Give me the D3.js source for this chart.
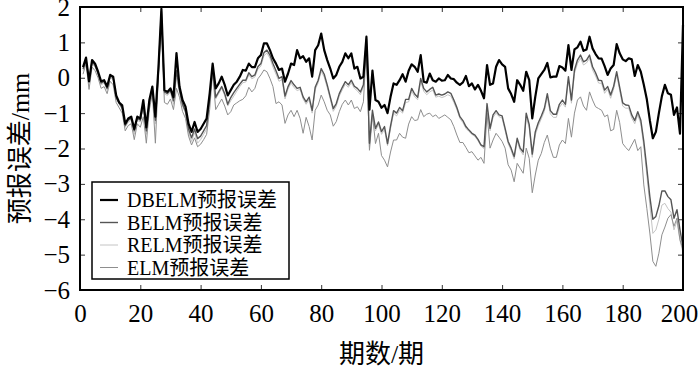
<!DOCTYPE html>
<html>
<head>
<meta charset="utf-8">
<script src="https://cdn.jsdelivr.net/npm/d3@7"></script>
<style>
  body { margin: 0; background: #fff; }
  text { font-family: "Liberation Serif", "Times New Roman", "Noto Sans CJK SC", serif; fill: #000; }
</style>
</head>
<body>
<div id="chart"></div>
<script>
//! ===== 0. Data =====
const periods = d3.range(1, 201);
const xTicks = [0, 20, 40, 60, 80, 100, 120, 140, 160, 180, 200];
const yTicks = [-6, -5, -4, -3, -2, -1, 0, 1, 2];
const seriesNames = ["DBELM预报误差", "BELM预报误差", "RELM预报误差", "ELM预报误差"];

const dbelm = [
  0.3, 0.57, -0.1, 0.5, 0.4, 0.17, -0.1, -0.07, -0.25, 0.08,
  0.03, -0.5, -0.7, -0.78, -1.3, -1.15, -1.1, -1.45, -1.1, -1.15,
  -0.63, -1.4, -0.63, -0.25, -1.1, 0.26, 1.95, -0.35, -0.4, -0.3,
  -0.55, 0.7, -0.25, -0.63, -0.82, -1.3, -1.53, -1.25, -1.53, -1.45,
  -1.3, -1.15, -0.45, 0.4, -0.3, -0.16, 0.03, -0.2, -0.5, -0.35,
  -0.2, -0.11, 0.03, 0.22, 0.2, 0.4, 0.3, 0.3, 0.55, 0.64,
  0.97, 0.97, 0.78, 0.55, 0.4, 0.22, 0.26, -0.11, 0.12, 0.4,
  0.36, 0.78, 0.55, 0.61, 0.45, 0.55, 0.03, 0.78, 0.92, 1.25,
  0.78, 0.5, 0.26, -0.02, 0.08, 0.31, 0.45, 0.69, 0.55, 0.69,
  0.26, 0.31, -0.02, 0.03, 1.16, -0.9, 0.2, -0.63, -0.68, -0.85,
  -0.77, -1.0, -0.54, -0.16, -0.2, -0.07, 0.1, -0.11, 0.2, 0.38,
  0.31, 0.17, 0.64, -0.11, -0.14, 0.12, -0.07, -0.11, -0.02, -0.08,
  -0.07, 0.08, -0.02, -0.04, -0.14, -0.2, -0.13, 0.05, -0.24, -0.16,
  -0.33, -0.2, -0.37, -0.58, 0.36, -0.2, -0.16, 0.31, 0.5, 0.38,
  0.31, -0.3, -0.46, -0.68, -0.07, -0.2, -0.37, 0.17, -0.07, -1.15,
  -0.54, -0.02, 0.1, 0.22, 0.42, 0.01, 0.03, 0.03, 0.33, 0.29,
  0.2, 0.92, 0.22, 0.8, 0.86, 1.02, 0.76, 0.8, 1.16, 0.83,
  0.67, 0.55, 0.54, 0.33, 0.08, 0.26, 0.36, 0.95, 0.69, 0.52,
  0.47, 0.55, 0.52, 0.05, 0.36, 0.17, -0.2, -0.61, -1.2, -1.71,
  -1.53, -1.0, -0.52, -0.2, -0.44, -0.48, -1.05, -0.84, -1.58, 1.5
];

const belm = [
  0.25, 0.5, -0.05, 0.45, 0.35, 0.12, -0.15, -0.1, -0.3, 0.05,
  0.0, -0.55, -0.72, -0.85, -1.35, -1.2, -1.15, -1.5, -1.15, -1.2,
  -0.75, -1.5, -0.7, -0.3, -1.2, 0.2, 1.88, -0.4, -0.45, -0.35,
  -0.65, 0.2, -0.35, -0.75, -0.95, -1.45, -1.7, -1.45, -1.72, -1.65,
  -1.5, -1.35, -0.6, 0.3, -0.55, -0.4, -0.25, -0.45, -0.75, -0.56,
  -0.42, -0.3, -0.18, -0.07, -0.07, 0.14, 0.03, 0.08, 0.31, 0.4,
  0.71, 0.78, 0.64, 0.4, 0.2, -0.02, 0.03, -0.52, -0.25, -0.08,
  -0.2, -0.3, -0.27, -0.54, -0.68, -0.55, -0.92, -0.27, -0.07, 0.26,
  0.1, -0.2, -0.54, -0.87, -0.73, -0.45, -0.27, -0.11, -0.2, -0.07,
  -0.24, -0.3, -0.4, -0.2, 1.1, -1.85, -0.92, -1.43, -1.25, -1.52,
  -1.38, -1.86, -1.36, -0.93, -1.0, -0.84, -0.93, -0.61, -0.61, -0.3,
  -0.46, -0.55, -0.02, -0.3, -0.4, -0.33, -0.27, -0.49, -0.46, -0.49,
  -0.46, -0.4, -0.44, -0.63, -0.84, -1.1, -1.21, -1.38, -1.48, -1.57,
  -1.62, -1.74, -1.9, -1.95, -0.73, -1.43, -1.05, -0.93, -1.05, -1.08,
  -1.43, -1.8, -1.99, -2.23, -1.71, -1.99, -2.1, -1.0, -1.33, -2.16,
  -1.53, -1.27, -1.08, -0.87, -0.45, -0.93, -1.03, -1.03, -0.75, -0.63,
  -0.75, 0.03, -0.63, 0.22, 0.5, 0.64, 0.45, 0.5, 0.64, 0.31,
  0.14, -0.07, -0.08, -0.35, -0.25, -0.49, -0.24, 0.17, -0.27, -0.71,
  -0.77, -0.78, -1.05, -1.21, -0.96, -1.2, -1.8, -2.56, -3.36, -4.0,
  -3.92, -3.62, -3.2, -3.2, -3.36, -3.45, -3.97, -3.73, -4.3, -4.78
];

const relm = [
  0.2, 0.45, -0.1, 0.4, 0.3, 0.1, -0.2, -0.15, -0.35, 0.0,
  -0.05, -0.6, -0.75, -0.9, -1.4, -1.25, -1.2, -1.6, -1.2, -1.25,
  -0.8, -1.6, -0.75, -0.35, -1.3, 0.15, 1.75, -0.45, -0.5, -0.4,
  -0.75, 0.0, -0.4, -0.8, -1.0, -1.55, -1.8, -1.55, -1.85, -1.75,
  -1.6, -1.45, -0.7, 0.25, -0.6, -0.45, -0.3, -0.5, -0.8, -0.65,
  -0.52, -0.38, -0.25, -0.14, -0.12, 0.08, -0.03, 0.02, 0.24, 0.33,
  0.62, 0.7, 0.55, 0.3, 0.1, -0.1, -0.05, -0.6, -0.32, -0.15,
  -0.28, -0.36, -0.33, -0.6, -0.75, -0.62, -1.0, -0.34, -0.14, 0.18,
  0.02, -0.28, -0.6, -0.95, -0.8, -0.52, -0.34, -0.18, -0.27, -0.14,
  -0.3, -0.37, -0.48, -0.26, 1.0, -1.95, -1.0, -1.5, -1.32, -1.6,
  -1.46, -1.92, -1.44, -1.0, -1.08, -0.92, -1.0, -0.7, -0.68, -0.38,
  -0.54, -0.62, -0.1, -0.38, -0.48, -0.4, -0.35, -0.55, -0.52, -0.56,
  -0.53, -0.48, -0.52, -0.7, -0.9, -1.15, -1.27, -1.43, -1.52, -1.6,
  -1.66, -1.78, -1.93, -2.0, -0.85, -1.5, -1.12, -1.0, -1.1, -1.14,
  -1.5, -1.86, -2.06, -2.3, -1.8, -2.05, -2.18, -1.1, -1.42, -2.25,
  -1.62, -1.36, -1.16, -0.95, -0.55, -1.02, -1.12, -1.12, -0.84, -0.72,
  -0.83, -0.05, -0.72, 0.12, 0.4, 0.55, 0.36, 0.42, 0.55, 0.22,
  0.05, -0.15, -0.16, -0.44, -0.32, -0.58, -0.32, 0.08, -0.36, -0.8,
  -0.86, -0.86, -1.14, -1.3, -1.05, -1.3, -1.95, -2.75, -3.6, -4.4,
  -4.3, -4.0, -3.6, -3.55, -3.7, -3.8, -4.3, -4.05, -4.6, -4.95
];

const elm = [
  0.1, 0.4, -0.33, 0.3, 0.2, 0.0, -0.3, -0.25, -0.45, -0.1,
  -0.2, -0.7, -0.85, -1.0, -1.5, -1.35, -1.3, -1.75, -1.3, -1.4,
  -1.1, -1.85, -0.9, -0.45, -1.85, 0.05, 1.55, -0.7, -0.75, -0.6,
  -0.9, -0.3, -0.55, -0.95, -1.15, -1.65, -1.9, -1.7, -1.95, -1.88,
  -1.75, -1.6, -0.9, 0.15, -0.9, -0.75, -0.6, -0.8, -1.05, -0.96,
  -0.77, -0.71, -0.65, -0.61, -0.51, -0.27, -0.4, -0.3, -0.03, 0.08,
  0.22, 0.17, -0.02, -0.25, -0.73, -0.68, -0.77, -1.29, -1.05, -0.92,
  -1.1, -0.92, -1.15, -1.57, -1.12, -1.38, -1.76, -0.92, -0.77, -0.49,
  -0.68, -0.92, -1.05, -1.37, -1.24, -0.96, -0.75, -0.63, -0.77, -0.63,
  -0.87, -0.82, -0.96, -0.68, 0.9, -2.05, -1.05, -1.86, -1.57, -2.2,
  -2.33, -2.52, -2.1, -1.76, -1.76, -1.57, -1.68, -1.71, -1.31, -1.1,
  -1.21, -1.19, -0.9, -1.1, -1.03, -1.0, -1.1, -1.05, -1.15, -1.1,
  -1.05, -1.12, -1.19, -1.38, -1.62, -1.83, -1.83, -1.97, -2.12, -2.09,
  -2.21, -2.33, -2.25, -2.42, -1.0, -1.99, -1.76, -1.57, -1.68, -1.8,
  -1.99, -2.46, -2.61, -2.94, -2.42, -2.56, -2.7, -1.99, -2.28, -3.25,
  -2.75, -2.33, -2.14, -1.83, -1.62, -1.99, -2.25, -2.25, -1.9, -1.76,
  -1.86, -1.15, -1.68, -1.0, -0.63, -0.54, -0.8, -0.92, -0.4, -0.63,
  -0.82, -0.87, -0.92, -1.1, -1.05, -1.5, -1.46, -0.92, -1.27, -1.86,
  -1.97, -2.06, -1.9, -1.74, -2.06, -1.95, -3.03, -3.69, -4.39, -5.19,
  -5.33, -4.96, -4.44, -4.22, -3.97, -3.87, -4.2, -3.97, -4.58, -4.86
];

// line look for each series, same order as seriesNames
const lineStyles = [
  {color: "#000000", width: 2.2},
  {color: "#555555", width: 1.4},
  {color: "#c4c4c4", width: 1.0},
  {color: "#8e8e8e", width: 1.0}
];

//! ===== I. Chart =====
const margin = {top: 7, right: 17, bottom: 80, left: 80};
const width = 700 - margin.left - margin.right;
const height = 370 - margin.top - margin.bottom;

const svg = d3.select("#chart")
    .append("svg")
    .attr("width", 700)
    .attr("height", 370)
  .append("g")
    .attr("transform", `translate(${margin.left},${margin.top})`);

const x = d3.scaleLinear().domain([0, 200]).range([0, width]);
const y = d3.scaleLinear().domain([-6, 2]).range([height, 0]);

// Axes, ticks pointing inward
const xAxis = svg.append("g")
    .attr("transform", `translate(0,${height})`)
    .call(d3.axisBottom(x).tickValues(xTicks).tickSize(-5).tickPadding(14).tickFormat(d3.format("d")));
const yAxis = svg.append("g")
    .call(d3.axisLeft(y).tickValues(yTicks).tickSize(-5).tickPadding(10)
      .tickFormat(d => d < 0 ? "\u2212" + Math.abs(d) : d));
svg.append("g")
    .call(d3.axisTop(x).tickValues(xTicks).tickSize(-5).tickFormat(""));
svg.append("g")
    .attr("transform", `translate(${width},0)`)
    .call(d3.axisRight(y).tickValues(yTicks).tickSize(-5).tickFormat(""));

svg.selectAll(".domain").remove();
svg.selectAll(".tick line").attr("stroke", "#333").attr("stroke-width", 1);
xAxis.selectAll("text").style("font-size", "25px").attr("fill", "#000");
yAxis.selectAll("text").style("font-size", "25px").attr("fill", "#000");
// last x label pulled in a little so it stays on the page
xAxis.selectAll(".tick text").filter(d => d === 200).attr("dx", "-4");

// Lines
const allSeries = [dbelm, belm, relm, elm];
const line = d3.line()
    .x((d, i) => x(periods[i]))
    .y(d => y(d));

const drawOrder = [2, 3, 1, 0];
drawOrder.forEach(k => {
    svg.append("path")
        .datum(allSeries[k])
        .attr("fill", "none")
        .attr("stroke", lineStyles[k].color)
        .attr("stroke-width", lineStyles[k].width)
        .attr("stroke-linejoin", "round")
        .attr("d", line);
});

// Frame
svg.append("rect")
    .attr("x", 0).attr("y", 0)
    .attr("width", width).attr("height", height)
    .attr("fill", "none")
    .attr("stroke", "#000")
    .attr("stroke-width", 2);

// Axis titles
svg.append("text")
    .attr("x", width / 2)
    .attr("y", height + 73)
    .attr("text-anchor", "middle")
    .style("font-size", "26px")
    .text("期数/期");

svg.append("text")
    .attr("transform", `translate(${-51},${height / 2}) rotate(-90)`)
    .attr("text-anchor", "middle")
    .style("font-size", "26px")
    .text("预报误差/mm");

//! ===== II. Legend =====
const legend = svg.append("g")
    .attr("transform", "translate(12,175)");

legend.append("rect")
    .attr("width", 197)
    .attr("height", 97)
    .attr("fill", "#fff")
    .attr("stroke", "#000")
    .attr("stroke-width", 1.5);

seriesNames.forEach((name, i) => {
    const row = legend.append("g")
        .attr("transform", `translate(0,${18 + i * 22.5})`);
    row.append("line")
        .attr("x1", 8).attr("x2", 26)
        .attr("stroke", lineStyles[i].color)
        .attr("stroke-width", lineStyles[i].width);
    row.append("text")
        .attr("x", 35)
        .attr("dy", "0.35em")
        .style("font-size", "20px")
        .text(name);
});
</script>
</body>
</html>
